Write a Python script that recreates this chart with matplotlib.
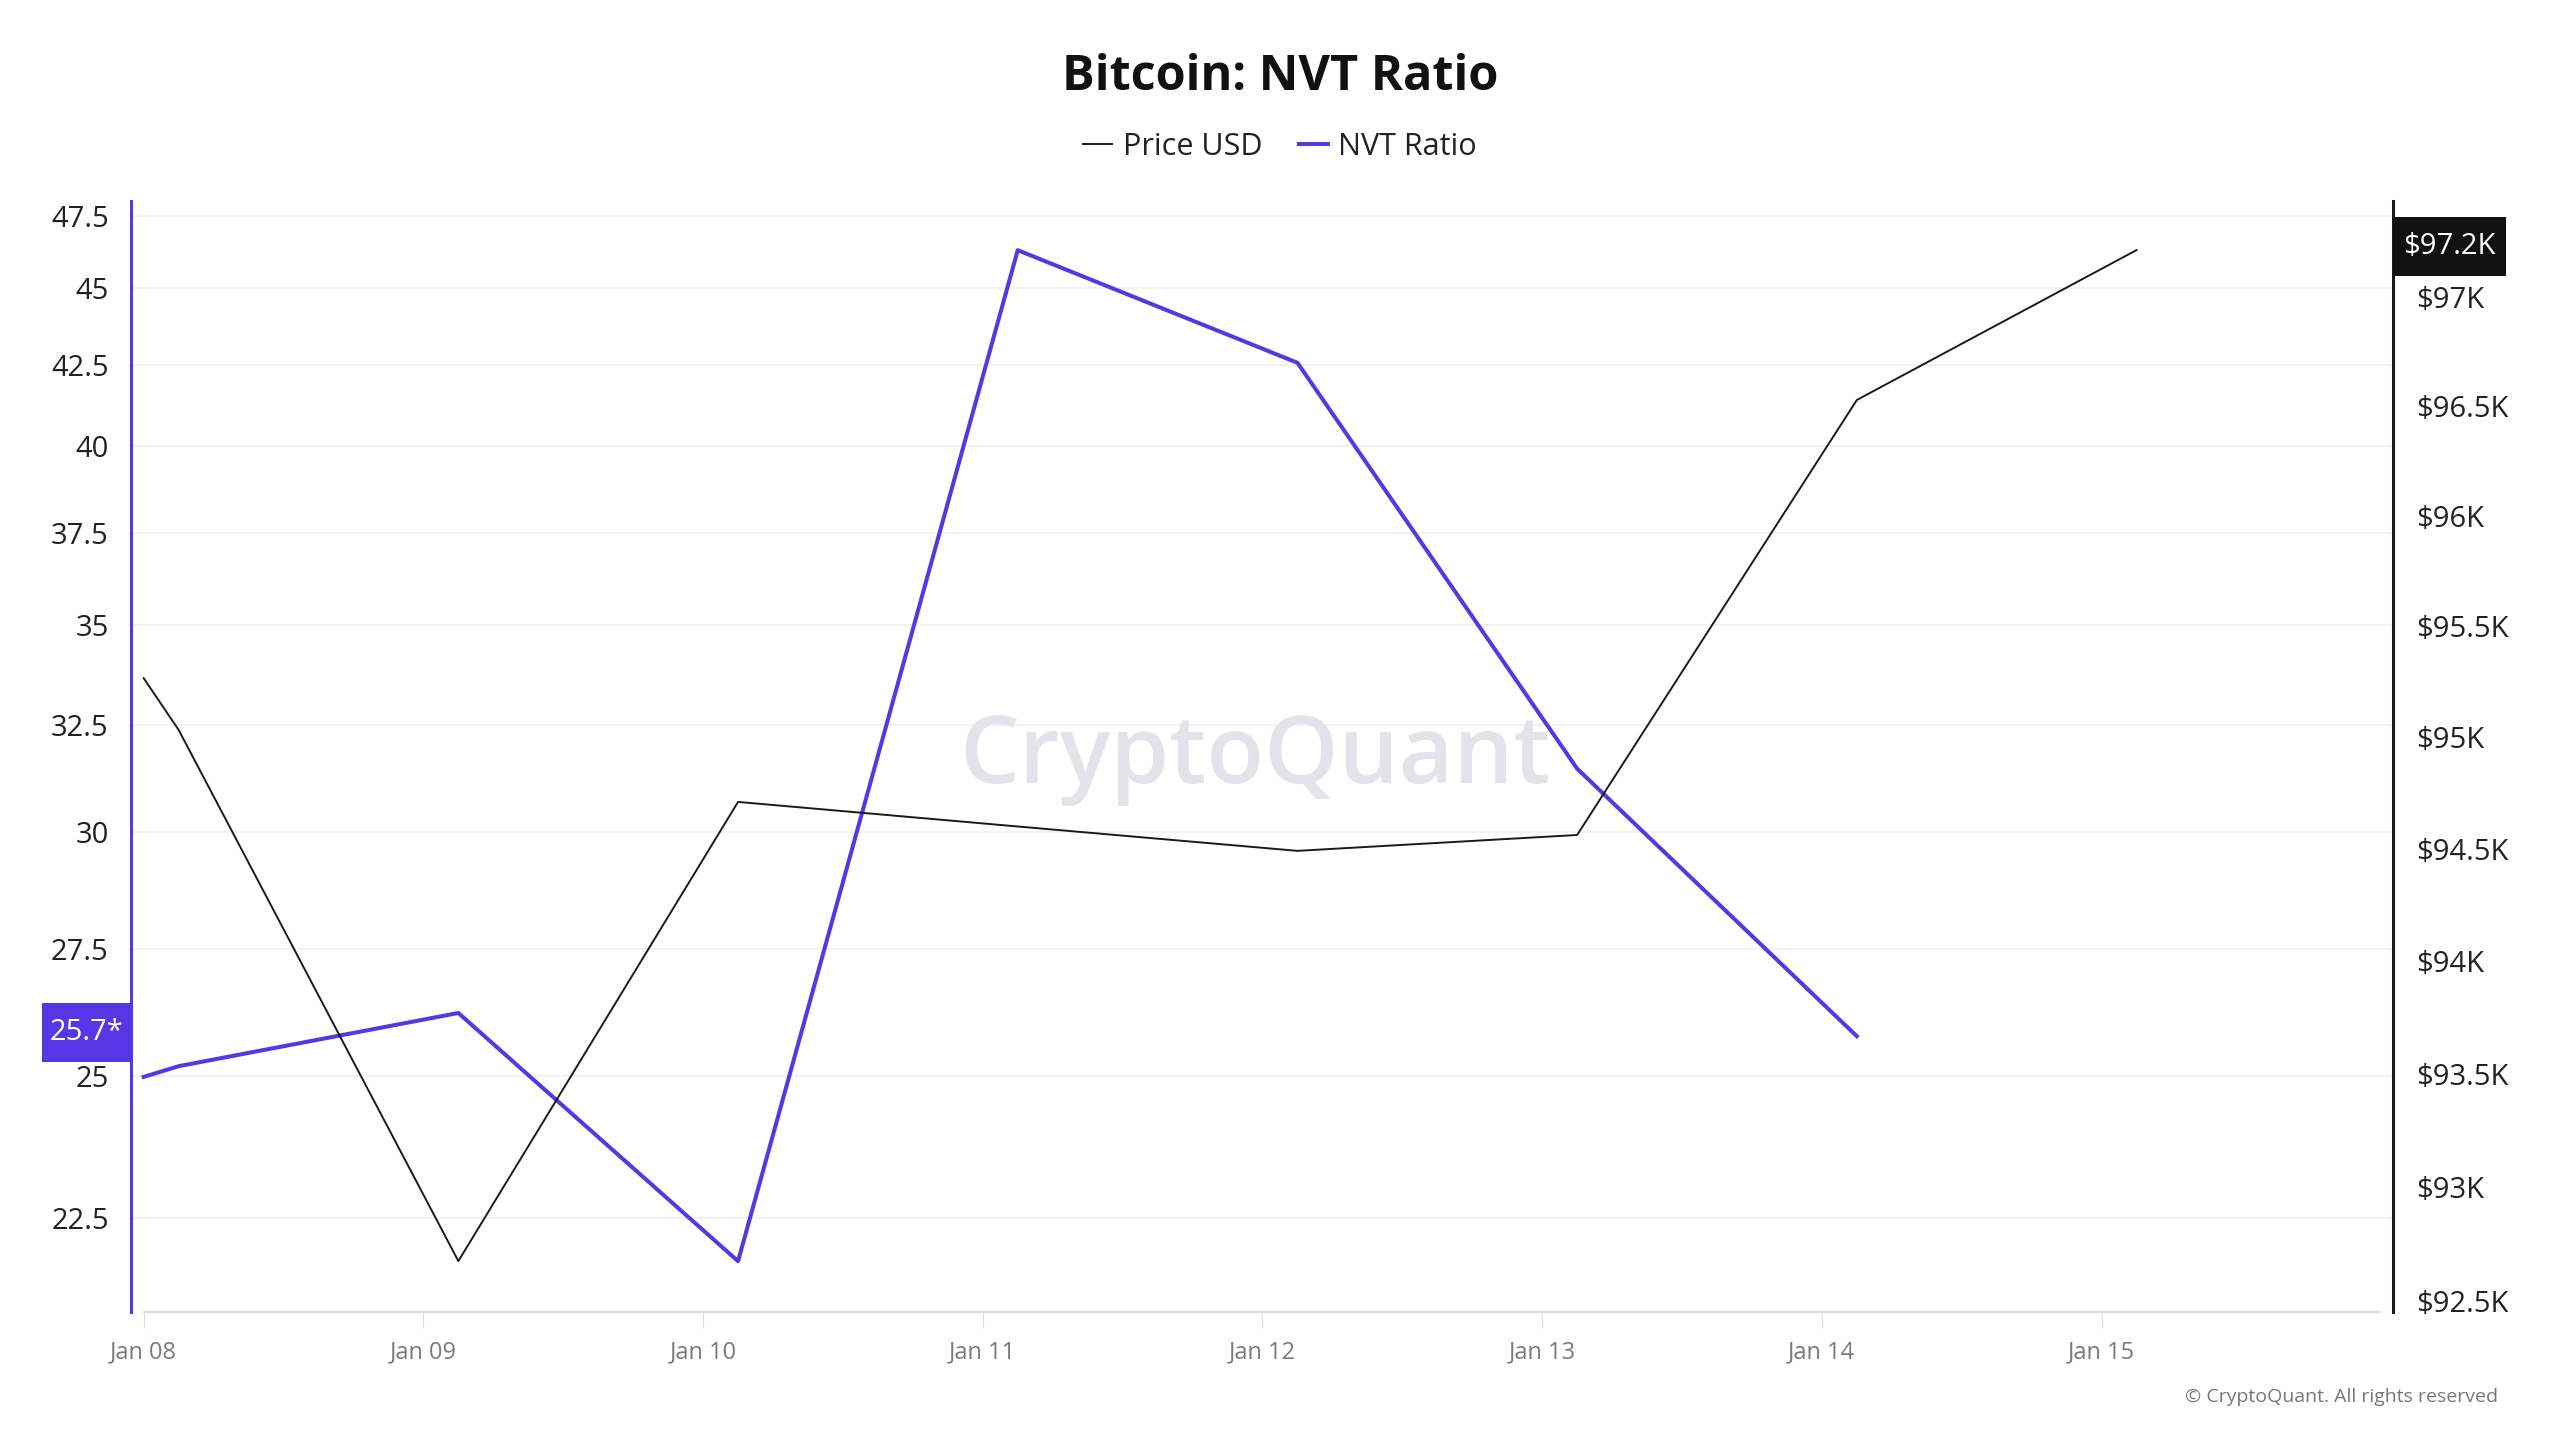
import matplotlib
matplotlib.use("Agg")
import matplotlib.pyplot as plt
import matplotlib.dates as mdates
from matplotlib.ticker import FixedLocator, FuncFormatter, NullLocator
from matplotlib.transforms import blended_transform_factory, IdentityTransform
from matplotlib.patches import Rectangle
from matplotlib.lines import Line2D
import numpy as np
import pandas as pd

plt.rcParams['font.family'] = ['Open Sans', 'DejaVu Sans']

# ---------------- data ----------------
dates = pd.to_datetime([
    "2025-01-08 00:00", "2025-01-08 03:00", "2025-01-09 03:00", "2025-01-10 03:00",
    "2025-01-11 03:00", "2025-01-12 03:00", "2025-01-13 03:00", "2025-01-14 03:00",
    "2025-01-15 03:00",
])
price_usd = [95266, 95033, 92675, 94710, 94600, 94491, 94562, 96528, 97215]
nvt_ratio = [24.99, 25.19, 26.21, 21.78, 46.30, 42.57, 31.45, 25.76, np.nan]

nvt_ticks = [22.5, 25, 27.5, 30, 32.5, 35, 37.5, 40, 42.5, 45, 47.5]
price_ticks = [92500, 93000, 93500, 94000, 94500, 95000, 95500, 96000, 96500, 97000]
x_ticks = pd.date_range("2025-01-08", "2025-01-15", freq="D")

title = "Bitcoin: NVT Ratio"
nvt_label = "25.7*"
price_label = "$97.2K"

PURPLE = "#5637E6"
BLACK = "#1a1a1a"

# ---------------- figure ----------------
W, H = 2560, 1440
fig = plt.figure(figsize=(W / 100, H / 100), dpi=100)
fig.patch.set_facecolor("white")

left_px, right_px, top_px, bottom_px = 131, 2393, 201, 1312
ax = fig.add_axes([left_px / W, 1 - bottom_px / H, (right_px - left_px) / W, (bottom_px - top_px) / H])
ax2 = ax.twinx()

day0 = mdates.date2num(pd.Timestamp("2025-01-08"))

# left axis: NVT (log)
ax.set_yscale("log")
ax.set_ylim(20.97, 48.03)
ax.yaxis.set_major_locator(FixedLocator(nvt_ticks))
ax.yaxis.set_minor_locator(NullLocator())
ax.yaxis.set_major_formatter(FuncFormatter(lambda v, p: f"{v:g}"))

# right axis: price (log)
ax2.set_yscale("log")
ax2.set_ylim(92452, 97441)
ax2.yaxis.set_major_locator(FixedLocator(price_ticks))
ax2.yaxis.set_minor_locator(NullLocator())
ax2.yaxis.set_major_formatter(FuncFormatter(lambda v, p: f"${v/1000:g}K"))

# lines
ax.plot(dates, nvt_ratio, color=PURPLE, lw=2.9, zorder=3)
ax2.plot(dates, price_usd, color=BLACK, lw=1.4, zorder=3)
ax.set_xlim(day0 - 0.0454, day0 + 8.042)

# grid
ax.grid(axis="y", color="#f0f0f2", lw=1.2, zorder=0)
ax.grid(axis="x", visible=False)
ax.set_axisbelow(True)

# spines
for s in ["top", "right"]:
    ax.spines[s].set_visible(False)
ax2.spines["top"].set_visible(False)
ax2.spines["left"].set_visible(False)
ax2.spines["bottom"].set_visible(False)
ax.spines["left"].set_color(PURPLE)
ax.spines["left"].set_linewidth(2.2)
ax2.spines["right"].set_color(BLACK)
ax2.spines["right"].set_linewidth(2.2)
ax.spines["bottom"].set_color("#dcdce4")
ax.spines["bottom"].set_linewidth(1.6)
ax.spines["bottom"].set_bounds(day0, day0 + 7.995)

# ticks
ax.set_xticks(mdates.date2num(x_ticks))
ax.xaxis.set_major_formatter(mdates.DateFormatter("%b %d"))
ax.tick_params(axis="x", length=11.5, width=0.8, color="#dcdce4", pad=9,
               labelsize=17, labelcolor="#7a7a7a")
ax.tick_params(axis="y", length=0, pad=16, labelsize=21, labelcolor="#222222")
ax2.tick_params(axis="y", length=0, pad=17, labelsize=21, labelcolor="#222222")

# watermark
ax.text(0.497, 0.498, "CryptoQuant", transform=ax.transAxes, ha="center", va="center",
        fontsize=68, color="#e4e3ea", fontweight="semibold", zorder=1)

# value labels (boxes anchored at the last values, sized in pixels)
last_nvt = [v for v in nvt_ratio if not np.isnan(v)][-1]
bl = blended_transform_factory(ax.transAxes, ax.transData)
ax_, ay_ = bl.transform((0, last_nvt))
bw, bh = 89, 59
cy = ay_ + 4
fig.add_artist(Rectangle((ax_ - bw, cy - bh / 2), bw, bh, transform=IdentityTransform(),
                         facecolor=PURPLE, edgecolor="none", zorder=10))
fig.text((ax_ - bw / 2) / W, cy / H, nvt_label, ha="center", va="center",
         fontsize=21, color="white", zorder=11)

bl2 = blended_transform_factory(ax2.transAxes, ax2.transData)
px_, py_ = bl2.transform((1, price_usd[-1]))
bw2 = 113
cy2 = py_ + 4
fig.add_artist(Rectangle((px_, cy2 - bh / 2), bw2, bh, transform=IdentityTransform(),
                         facecolor="#111111", edgecolor="none", zorder=10))
fig.text((px_ + bw2 / 2) / W, cy2 / H, price_label, ha="center", va="center",
         fontsize=21, color="white", zorder=11)

# title & legend
fig.text(0.5, 1 - 77 / H, title, ha="center", va="center", fontsize=35,
         fontweight="bold", color="#111111")
handles = [Line2D([], [], color=BLACK, lw=1.4), Line2D([], [], color=PURPLE, lw=2.9)]
fig.legend(handles, ["Price USD", "NVT Ratio"], loc="center", bbox_to_anchor=(0.5, 1 - 147 / H),
           ncol=2, frameon=False, fontsize=22, handlelength=0.95, handletextpad=0.35,
           columnspacing=1.2, labelcolor="#222222")

fig.text(2498 / W, 1 - 1397 / H, "© CryptoQuant. All rights reserved", ha="right", va="center",
         fontsize=14, color="#777777")

fig.savefig("out.png", dpi=100, facecolor="white")
